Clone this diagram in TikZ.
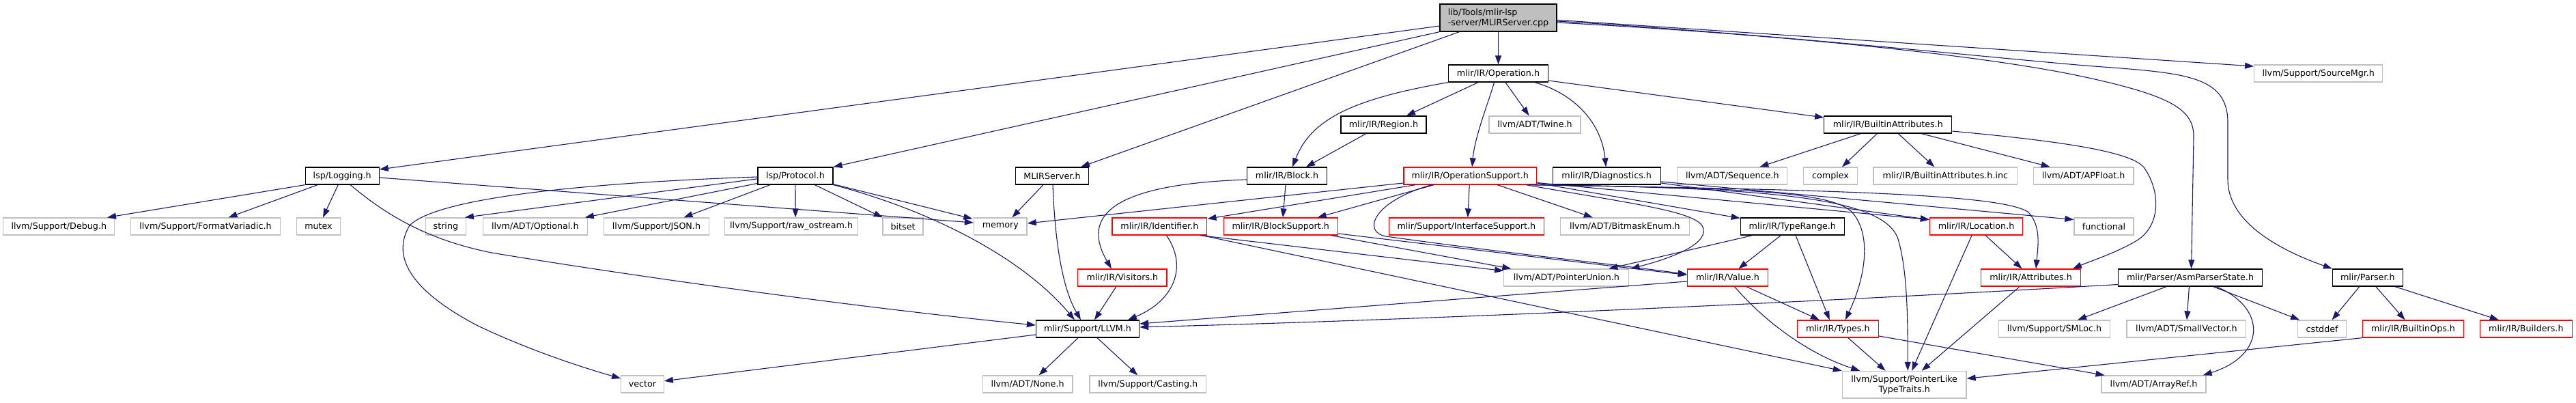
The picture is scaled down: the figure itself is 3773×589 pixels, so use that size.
\documentclass[tikz,border=0pt]{standalone}
\usepackage{fontspec}
\setmainfont{DejaVu Sans}
\usetikzlibrary{arrows.meta,calc}
\definecolor{edgec}{HTML}{191970}
\definecolor{grayb}{HTML}{BFBFBF}
\tikzset{
  box/.style={rectangle, draw, line width=1.3pt, minimum height=25pt, inner sep=0pt, font=\fontsize{12.7}{15}\selectfont, text=black},
  bb/.style={box, draw=black},
  gb/.style={box, draw=grayb},
  rb/.style={box, draw=red},
  e/.style={draw=edgec, line width=1.1pt, -{Triangle[length=13pt,width=9pt]}},
}
\begin{document}
\begin{tikzpicture}[x=1pt,y=-1pt]
\useasboundingbox (0,0) rectangle (3773,589);
% row 0
\node[box, fill=grayb, draw=black, minimum width=171pt, minimum height=40pt, align=left] (root) at (2194.5,26) {lib/Tools/mlir-lsp\\-server/MLIRServer.cpp};
% row 1
\node[bb, minimum width=146pt] (op) at (2194.5,107.5) {mlir/IR/Operation.h};
\node[gb, minimum width=188pt] (srcmgr) at (3395.7,107.5) {llvm/Support/SourceMgr.h};
% row 2
\node[bb, minimum width=125pt] (region) at (2026.5,182.5) {mlir/IR/Region.h};
\node[gb, minimum width=134pt] (twine) at (2248,182.5) {llvm/ADT/Twine.h};
\node[bb, minimum width=187pt] (battr) at (2765.3,182.5) {mlir/IR/BuiltinAttributes.h};
% row 3
\node[bb, minimum width=108pt] (logging) at (501.2,257.5) {lsp/Logging.h};
\node[bb, minimum width=110pt] (protocol) at (1164.9,257.5) {lsp/Protocol.h};
\node[bb, minimum width=106.5pt] (mserverh) at (1541,257.5) {MLIRServer.h};
\node[bb, minimum width=117pt] (block) at (1885,257.5) {mlir/IR/Block.h};
\node[rb, minimum width=194.7pt] (opsup) at (2153.2,257.5) {mlir/IR/OperationSupport.h};
\node[bb, minimum width=158pt] (diag) at (2353.2,257.5) {mlir/IR/Diagnostics.h};
\node[gb, minimum width=161pt] (sequence) at (2537.3,257.5) {llvm/ADT/Sequence.h};
\node[gb, minimum width=79pt] (complex) at (2681,257.5) {complex};
\node[gb, minimum width=210.7pt] (battrinc) at (2849.3,257.5) {mlir/IR/BuiltinAttributes.h.inc};
\node[gb, minimum width=146.5pt] (apfloat) at (3051.6,257.5) {llvm/ADT/APFloat.h};
% row 4
\node[gb, minimum width=163pt] (debug) at (86.3,331.5) {llvm/Support/Debug.h};
\node[gb, minimum width=218.4pt] (fmtvar) at (301,331.5) {llvm/Support/FormatVariadic.h};
\node[gb, minimum width=64.5pt] (mutex) at (466.5,331.5) {mutex};
\node[gb, minimum width=59pt] (string) at (652.9,331.5) {string};
\node[gb, minimum width=153pt] (optional) at (783.8,331.5) {llvm/ADT/Optional.h};
\node[gb, minimum width=154pt] (json) at (961.5,331.5) {llvm/Support/JSON.h};
\node[gb, minimum width=195pt] (rawos) at (1159.1,331.5) {llvm/Support/raw\_ostream.h};
\node[gb, minimum width=59pt] (bitset) at (1322.6,331.5) {bitset};
\node[gb, minimum width=77.6pt] (memory) at (1465.3,331.5) {memory};
\node[rb, minimum width=138.8pt] (ident) at (1698.4,331.5) {mlir/IR/Identifier.h};
\node[rb, minimum width=167pt] (blksup) at (1875.7,331.5) {mlir/IR/BlockSupport.h};
\node[rb, minimum width=227pt] (ifsup) at (2147.8,331.5) {mlir/Support/InterfaceSupport.h};
\node[gb, minimum width=189pt] (bitmask) at (2379.8,331.5) {llvm/ADT/BitmaskEnum.h};
\node[bb, minimum width=152pt] (typerange) at (2625.3,331.5) {mlir/IR/TypeRange.h};
\node[rb, minimum width=136pt] (location) at (2894.5,331.5) {mlir/IR/Location.h};
\node[gb, minimum width=87pt] (functional) at (3081.5,331.5) {functional};
% row 5
\node[rb, minimum width=130.3pt] (visitors) at (1643.9,406.5) {mlir/IR/Visitors.h};
\node[gb, minimum width=183pt] (punion) at (2294.3,406.5) {llvm/ADT/PointerUnion.h};
\node[rb, minimum width=118pt] (value) at (2530.4,406.5) {mlir/IR/Value.h};
\node[rb, minimum width=145.6pt] (attrs) at (2974.5,406.5) {mlir/IR/Attributes.h};
\node[bb, minimum width=210.7pt] (asmps) at (3208,406.5) {mlir/Parser/AsmParserState.h};
\node[bb, minimum width=103pt] (parser) at (3467.8,406.5) {mlir/Parser.h};
% row 6
\node[bb, minimum width=151pt] (llvmh) at (1593,481.5) {mlir/Support/LLVM.h};
\node[rb, minimum width=119pt] (types) at (2691.8,481.5) {mlir/IR/Types.h};
\node[gb, minimum width=162.4pt] (smloc) at (3009,481.5) {llvm/Support/SMLoc.h};
\node[gb, minimum width=174.7pt] (smallvec) at (3202.4,481.5) {llvm/ADT/SmallVector.h};
\node[gb, minimum width=70.8pt] (cstddef) at (3401.1,481.5) {cstddef};
\node[rb, minimum width=148pt] (bops) at (3534.5,481.5) {mlir/IR/BuiltinOps.h};
\node[rb, minimum width=135pt] (builders) at (3699.8,481.5) {mlir/IR/Builders.h};
% row 7
\node[gb, minimum width=62.4pt] (vector) at (941,562.5) {vector};
\node[gb, minimum width=131.8pt] (none) at (1505.1,562.5) {llvm/ADT/None.h};
\node[gb, minimum width=170.5pt] (casting) at (1681.3,562.5) {llvm/Support/Casting.h};
\node[gb, minimum width=181.6pt, minimum height=39.5pt, align=center] (plt) at (2789.2,563.2) {llvm/Support/PointerLike\\TypeTraits.h};
\node[gb, minimum width=153pt] (arrayref) at (3154.5,562.5) {llvm/ADT/ArrayRef.h};

% ---- edges from root
\draw[e] ([yshift=-12pt]root.west) -- ([yshift=9.5pt]logging.east);
\draw[e] (root.south west) -- (protocol.north east);
\draw[e] ([xshift=-57pt]root.south) -- ([xshift=42pt]mserverh.north);
\draw[e] (root.south) -- (op.north);
\draw[e] ([yshift=-3.3pt]root.east) -- ([yshift=10.5pt]srcmgr.west);
\draw[e] ([yshift=-5pt]root.east) .. controls (2600,50) and (2950,88) .. (3067,97) .. controls (3200,107) and (3263,110) .. (3263,180) -- (3263,263) .. controls (3263,330) and (3350,370) .. ([xshift=-52pt]parser.north);
\draw[e] ([yshift=-7pt]root.east) .. controls (2600,50) and (2900,80) .. (3050,112) .. controls (3180,140) and (3213,160) .. (3213,200) -- ([xshift=1.5pt]asmps.north);
% ---- Operation.h
\draw[e] (op.south west) .. controls (1980,145) and (1920,175) .. ([xshift=8pt]block.north);
\draw[e] ([xshift=-29.5pt]op.south) -- ([xshift=33.5pt]region.north);
\draw[e] ([xshift=-6pt]op.south) .. controls (2180,150) and (2160,200) .. ([xshift=3pt]opsup.north);
\draw[e] ([xshift=10.5pt]op.south) -- ([xshift=-8.4pt]twine.north);
\draw[e] ([xshift=53.3pt]op.south) .. controls (2300,135) and (2345,175) .. ([xshift=-1pt]diag.north);
\draw[e] ([yshift=-10.5pt]op.east) -- ([yshift=10.5pt]battr.west);
% ---- Region, Block
\draw[e] ([xshift=-25.7pt]region.south) -- ([xshift=28pt]block.north);
\draw[e] ([xshift=-2pt]block.south) -- ([xshift=3.3pt]blksup.north);
\draw[e] ([yshift=-5.5pt]block.west) .. controls (1620,270) and (1585,320) .. ([xshift=-16pt]visitors.north);
% ---- MLIRServer.h
\draw[e] ([xshift=-13pt]mserverh.south) -- ([xshift=17pt]memory.north);
\draw[e] ([xshift=1pt]mserverh.south) .. controls (1545,350) and (1555,420) .. ([xshift=-10pt]llvmh.north);
% ---- Logging.h
\draw[e] (logging.south west) -- ([xshift=70.7pt]debug.north);
\draw[e] ([xshift=-36pt]logging.south) -- ([xshift=33.6pt]fmtvar.north);
\draw[e] ([xshift=-6pt]logging.south) -- ([xshift=6.5pt]mutex.north);
\draw[e] ([xshift=12pt]logging.south) .. controls (560,310) and (620,350) .. (720,370) .. controls (900,400) and (1250,450) .. ([yshift=5.5pt]llvmh.west);
\draw[e] ([yshift=-2.5pt]logging.east) -- ([yshift=5.5pt]memory.west);
% ---- Protocol.h
\draw[e] ([yshift=-4.3pt]protocol.west) -- ([xshift=28pt]string.north);
\draw[e] ([yshift=-1.5pt]protocol.west) .. controls (850,268) and (640,290) .. (600,330) .. controls (570,380) and (610,430) .. (700,477) .. controls (780,515) and (860,540) .. ([yshift=8.5pt]vector.west);
\draw[e] ([yshift=-11pt]protocol.west) -- ([xshift=73pt]optional.north);
\draw[e] ([xshift=-37pt]protocol.south) -- ([xshift=40pt]json.north);
\draw[e] (protocol.south) -- ([xshift=6pt]rawos.north);
\draw[e] ([xshift=28.5pt]protocol.south) -- ([xshift=-30pt]bitset.north);
\draw[e] ([yshift=1pt]protocol.south east) -- ([xshift=-41pt,yshift=-2pt]memory.north);
\draw[e] (protocol.south east) .. controls (1370,310) and (1500,380) .. ([xshift=-19pt]llvmh.north);
% ---- LLVM.h
\draw[e] ([yshift=-8.5pt]llvmh.west) -- ([yshift=4.7pt]vector.east);
\draw[e] ([xshift=-14pt]llvmh.south) -- ([xshift=16.5pt]none.north);
\draw[e] ([xshift=14pt]llvmh.south) -- ([xshift=-15pt]casting.north);
% ---- Visitors, Identifier
\draw[e] ([xshift=-9pt]visitors.south) -- ([xshift=10pt]llvmh.north);
\draw[e] ([xshift=10pt]ident.south) .. controls (1740,390) and (1720,440) .. ([xshift=59pt]llvmh.north);
\draw[e] ([xshift=59.6pt]ident.south) -- ([yshift=10pt]punion.west);
\draw[e] ([xshift=62pt]ident.south) -- (plt.north west);
% ---- OperationSupport.h
\draw[e] ([yshift=-10.5pt]opsup.west) -- ([yshift=4.5pt]memory.east);
\draw[e] ([xshift=-80pt]opsup.south) -- ([yshift=-2pt]ident.north east);
\draw[e] ([xshift=-53pt]opsup.south) -- ([xshift=54pt]blksup.north);
\draw[e] ([xshift=-1pt]opsup.south) -- ([xshift=2pt]ifsup.north);
\draw[e] ([xshift=40pt]opsup.south) -- ([xshift=-47pt]bitmask.north);
\draw[e] ([xshift=-56.5pt]opsup.south) .. controls (2010,295) and (1995,340) .. (2030,346) .. controls (2200,370) and (2350,385) .. ([yshift=5pt]value.west);
\draw[e] ([xshift=82pt]opsup.south) .. controls (2400,300) and (2490,310) .. (2495,335) .. controls (2500,360) and (2440,380) .. ([xshift=2pt]punion.north east);
\draw[e] ([yshift=-10.5pt]opsup.east) -- ([yshift=12pt]typerange.west);
\draw[e] ([yshift=-10pt]opsup.east) -- ([yshift=10pt]location.west);
\draw[e] ([xshift=92pt]opsup.south) .. controls (2700,278) and (2930,285) .. (2970,310) .. controls (2990,330) and (2985,360) .. ([xshift=7.5pt]attrs.north);
\draw[e] ([xshift=87pt]opsup.south) .. controls (2550,275) and (2680,280) .. (2712,310) .. controls (2740,340) and (2735,400) .. ([xshift=11pt]types.north);
\draw[e] ([xshift=92pt]opsup.south) .. controls (2600,275) and (2760,290) .. (2780,350) .. controls (2795,400) and (2794,480) .. ([xshift=5pt]plt.north);
% ---- Diagnostics.h
\draw[e] ([yshift=-10.5pt]diag.east) -- ([yshift=10pt]location.west);
\draw[e] ([yshift=-8.5pt]diag.east) -- ([yshift=10pt]functional.west);
% ---- BlockSupport.h
\draw[e] ([xshift=74pt]blksup.south) -- ([xshift=-81pt]punion.north);
\draw[e] ([yshift=-10.5pt]blksup.east) -- ([yshift=4pt]value.west);
% ---- TypeRange.h
\draw[e] ([xshift=-58.6pt]typerange.south) -- ([xshift=62pt]punion.north);
\draw[e] ([xshift=-17pt]typerange.south) -- ([xshift=16pt]value.north);
\draw[e] ([xshift=4.7pt]typerange.south) -- ([xshift=-12pt]types.north);
% ---- Value.h
\draw[e] ([yshift=-5.5pt]value.west) -- ([yshift=7.5pt]llvmh.east);
\draw[e] ([xshift=27.4pt]value.south) -- ([xshift=-27pt]types.north);
\draw[e] ([xshift=10pt]value.south) .. controls (2595,482) and (2660,522) .. ([xshift=-65pt]plt.north);
% ---- Attributes, Location, Types, BuiltinOps
\draw[e] ([xshift=-16.5pt]attrs.south) -- ([xshift=25.5pt]plt.north);
\draw[e] ([xshift=13.5pt]location.south) -- ([xshift=-13pt]attrs.north);
\draw[e] ([xshift=-6.5pt]location.south) -- ([xshift=11pt]plt.north);
\draw[e] ([xshift=15pt]types.south) -- ([xshift=-27.6pt]plt.north);
\draw[e] ([yshift=-10.5pt]types.east) -- ([xshift=-72pt]arrayref.north);
\draw[e] (bops.south west) -- ([yshift=9pt]plt.east);
% ---- BuiltinAttributes.h
\draw[e] ([xshift=-40pt]battr.south) -- ([xshift=40pt]sequence.north);
\draw[e] ([xshift=-16pt]battr.south) -- ([xshift=17pt]complex.north);
\draw[e] ([xshift=15pt]battr.south) -- ([xshift=-16pt]battrinc.north);
\draw[e] ([xshift=49pt]battr.south) -- ([xshift=-49pt]apfloat.north);
\draw[e] ([yshift=-9.5pt]battr.east) .. controls (3000,205) and (3120,220) .. (3140,245) .. controls (3165,280) and (3165,330) .. (3130,352) .. controls (3100,370) and (3060,383) .. ([xshift=-12pt]attrs.north east);
% ---- AsmParserState.h
\draw[e] ([yshift=-10pt]asmps.west) .. controls (2700,440) and (2100,468) .. ([yshift=2.6pt]llvmh.east);
\draw[e] ([xshift=-35pt]asmps.south) -- ([xshift=34pt]smloc.north);
\draw[e] ([xshift=-1.6pt]asmps.south) -- ([xshift=0.6pt]smallvec.north);
\draw[e] ([xshift=33.6pt]asmps.south) -- ([xshift=-33pt]cstddef.north);
\draw[e] ([xshift=38pt]asmps.south) .. controls (3320,450) and (3320,520) .. ([xshift=-5pt]arrayref.north east);
% ---- Parser.h
\draw[e] ([xshift=-12pt]parser.south) -- ([xshift=14.5pt]cstddef.north);
\draw[e] ([xshift=12pt]parser.south) -- ([xshift=-12pt]bops.north);
\draw[e] ([xshift=40pt]parser.south) -- ([xshift=-40pt]builders.north);
\end{tikzpicture}
\end{document}
